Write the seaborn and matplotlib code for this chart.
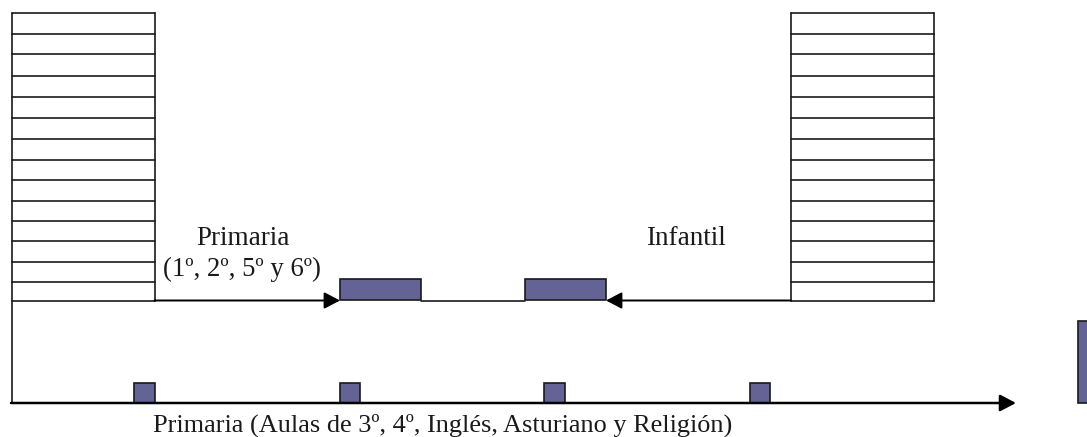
import pandas as pd
import matplotlib.pyplot as plt
import seaborn as sns

# floor lines of the two tall blocks (top to bottom)
floor_y = [13, 34, 54, 76, 97, 118, 139, 160, 180, 201, 221, 241, 262, 282, 301]
left_block = [11.5, 154.5]
right_block = [791, 934]

# blue rooms: left, right, top, bottom
room_left = [340, 525, 134, 340, 544, 750, 1078]
room_right = [421, 606, 155, 360, 565, 770, 1095]
room_top = [279, 279, 383, 383, 383, 383, 321]
room_bottom = [300, 300, 403, 403, 403, 403, 403]

labels = ["Primaria", "(1º, 2º, 5º y 6º)", "Infantil",
          "Primaria (Aulas de 3º, 4º, Inglés, Asturiano y Religión)"]
label_x = [243, 242, 686, 443]
label_y = [238.5, 269.5, 238.5, 425.5]
label_size = [19.5, 19.3, 19.5, 18.9]

sns.set_theme(style="white")
plt.rcParams['font.family'] = ['Liberation Serif', 'DejaVu Sans']

# every line segment as rows of a table
segs = []
n = 0
for block in [left_block, right_block]:
    for y in floor_y:
        segs.append((n, block[0], y))
        segs.append((n, block[1], y))
        n += 1
    for x in block:
        segs.append((n, x, floor_y[0]))
        segs.append((n, x, floor_y[-1]))
        n += 1
# left wall down to the ground line, corridor between the two rooms
for pts in [[(11.5, 301), (11.5, 403)], [(421, 300.5), (525, 300.5)]]:
    for p in pts:
        segs.append((n, p[0], p[1]))
    n += 1
df = pd.DataFrame(segs, columns=['seg', 'x', 'y'])

fig, ax = plt.subplots(figsize=(10.87, 4.37), dpi=100)
fig.subplots_adjust(left=0, right=1, top=1, bottom=0)

sns.lineplot(data=df, x='x', y='y', units='seg', estimator=None, sort=False,
             color='#1a1a1a', linewidth=1.2, ax=ax, legend=False)

for l, r, t, b in zip(room_left, room_right, room_top, room_bottom):
    ax.bar(l, b - t, width=r - l, bottom=t, align='edge', color='#636396',
           edgecolor='#1a1a1a', linewidth=1.2, zorder=3)

# arrows
arrow_style = dict(arrowstyle='-|>,head_length=0.8,head_width=0.42', color='black',
                   lw=1.4, shrinkA=0, shrinkB=0)
ground_style = dict(arrow_style, lw=1.8)
ax.annotate('', xy=(340, 300.5), xytext=(154.5, 300.5), arrowprops=arrow_style)
ax.annotate('', xy=(606, 300.5), xytext=(791, 300.5), arrowprops=arrow_style)
ax.annotate('', xy=(1016, 403), xytext=(11, 403), arrowprops=ground_style)

for s, x, y, size in zip(labels, label_x, label_y, label_size):
    ax.text(x, y, s, ha='center', va='center', fontsize=size, color='#1a1a1a')

ax.set_xlim(0, 1087)
ax.set_ylim(437, 0)
ax.set_xlabel('')
ax.set_ylabel('')
ax.set_xticks([])
ax.set_yticks([])
sns.despine(ax=ax, left=True, bottom=True)

plt.savefig('out.png', dpi=100)
